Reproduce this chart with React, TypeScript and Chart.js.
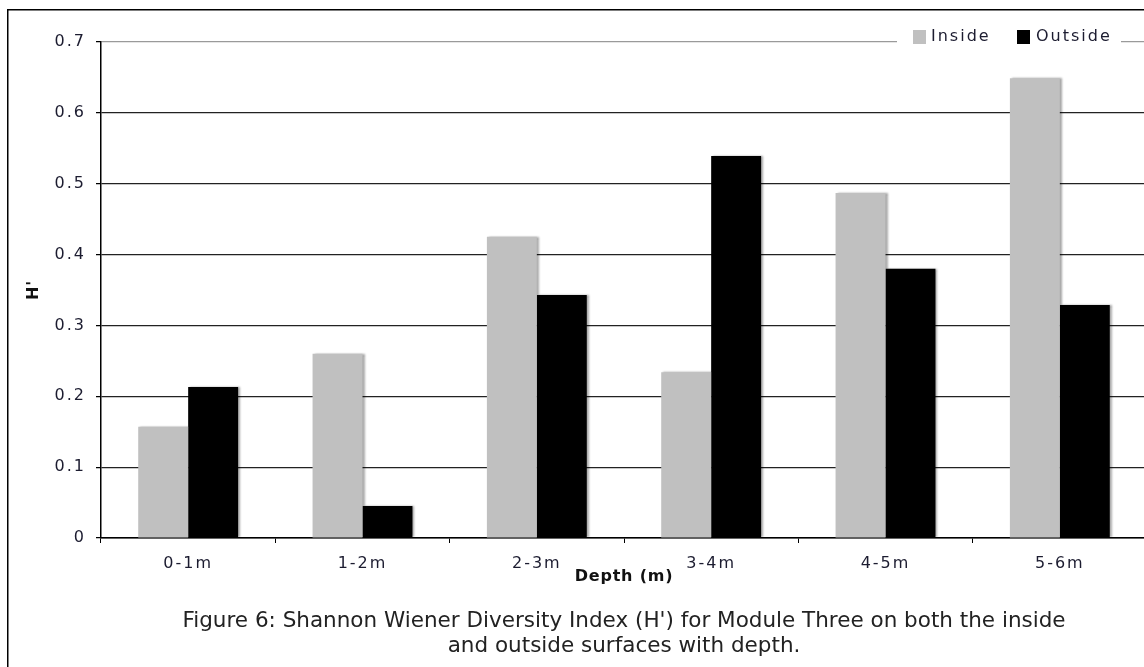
import { useEffect, useRef } from "react";
import { Chart, registerables } from "chart.js";

Chart.register(...registerables);

// Depth bands sampled on Module Three
const depthBands = ["0-1m", "1-2m", "2-3m", "3-4m", "4-5m", "5-6m"];
// Shannon Wiener index H' per band
const insideH = [0.157, 0.26, 0.425, 0.234, 0.487, 0.649];
const outsideH = [0.213, 0.045, 0.343, 0.539, 0.38, 0.329];
const seriesNames = ["Inside", "Outside"];
const seriesColors = ["#c0c0c0", "#000000"];
const yMax = 0.7;
const yStep = 0.1;
const xTitle = "Depth (m)";
const yTitle = "H'";
const captionLines = [
  "Figure 6: Shannon Wiener Diversity Index (H') for Module Three on both the inside",
  "and outside surfaces with depth.",
];

const FONT = "'DejaVu Sans', Verdana, sans-serif";
const TEXT = "#1c1c30";

const spacingPlugin = {
  id: "tracking",
  beforeDraw(chart: any) {
    chart.ctx.letterSpacing = "2px";
  },
};

const shadowPlugin = {
  id: "barShadow",
  beforeDatasetsDraw(chart: any) {
    const ctx = chart.ctx;
    ctx.save();
    ctx.shadowColor = "rgba(0,0,0,0.35)";
    ctx.shadowOffsetX = 2;
    ctx.shadowOffsetY = 0;
    ctx.shadowBlur = 2;
  },
  afterDatasetsDraw(chart: any) {
    chart.ctx.restore();
  },
};

const decorPlugin = {
  id: "decor",
  afterDraw(chart: any) {
    const ctx = chart.ctx;
    const area = chart.chartArea;
    ctx.save();

    // frame on top and left
    ctx.strokeStyle = "#000";
    ctx.lineWidth = 1.5;
    ctx.beginPath();
    ctx.moveTo(7.75, 667);
    ctx.lineTo(7.75, 9.75);
    ctx.lineTo(1150, 9.75);
    ctx.stroke();

    // legend sitting on the top grid line
    const yTop = chart.scales.y.getPixelForValue(yMax);
    ctx.fillStyle = "#fff";
    ctx.fillRect(897, yTop - 12, 224, 24);
    ctx.font = `16px ${FONT}`;
    ctx.letterSpacing = "2px";
    ctx.textBaseline = "middle";
    ctx.textAlign = "left";
    const items = [
      { x: 913, tx: 931 },
      { x: 1017, tx: 1036 },
    ];
    chart.data.datasets.forEach((ds: any, i: number) => {
      ctx.fillStyle = ds.backgroundColor;
      ctx.fillRect(items[i].x, 30, 13, 14);
      ctx.fillStyle = TEXT;
      ctx.fillText(ds.label, items[i].tx, 37);
    });

    // axis titles
    ctx.fillStyle = "#111";
    ctx.font = `bold 16px ${FONT}`;
    ctx.letterSpacing = "0.8px";
    ctx.textAlign = "center";
    ctx.fillText(xTitle, (area.left + area.right) / 2, 577);
    ctx.save();
    ctx.translate(34, (area.top + area.bottom) / 2);
    ctx.rotate(-Math.PI / 2);
    ctx.fillText(yTitle, 0, 0);
    ctx.restore();

    // caption
    ctx.font = `21.5px ${FONT}`;
    ctx.letterSpacing = "0px";
    ctx.fillStyle = "#222";
    ctx.textBaseline = "alphabetic";
    ctx.fillText(captionLines[0], 624, 627);
    ctx.fillText(captionLines[1], 624, 652);
    ctx.restore();
  },
};

export default function App() {
  const canvasRef = useRef<HTMLCanvasElement | null>(null);

  useEffect(() => {
    const canvas = canvasRef.current;
    if (!canvas) return;
    const chart = new Chart(canvas, {
      type: "bar",
      data: {
        labels: depthBands,
        datasets: [
          {
            label: seriesNames[0],
            data: insideH,
            backgroundColor: seriesColors[0],
            categoryPercentage: 0.573,
            barPercentage: 1,
          },
          {
            label: seriesNames[1],
            data: outsideH,
            backgroundColor: seriesColors[1],
            categoryPercentage: 0.573,
            barPercentage: 1,
          },
        ],
      },
      options: {
        responsive: false,
        animation: false,
        devicePixelRatio: 1,
        layout: { padding: { left: 0, top: 42, right: 3, bottom: 0 } },
        plugins: {
          legend: { display: false },
          tooltip: { enabled: false },
          title: { display: false },
        },
        scales: {
          x: {
            afterFit: (s: any) => {
              s.height = 129;
            },
            grid: {
              drawOnChartArea: false,
              tickLength: 5,
              color: "#000",
              offset: true,
            },
            border: { color: "#000", width: 1.5 },
            ticks: {
              color: TEXT,
              font: { family: FONT, size: 16 },
              padding: 11,
            },
          },
          y: {
            min: 0,
            max: yMax,
            afterFit: (s: any) => {
              s.width = 101;
            },
            grid: {
              tickLength: 5,
              color: (c: any) =>
                Math.abs(c.tick.value - yMax) < 1e-6 ? "#9a9a9a" : "#222",
              tickColor: "#000",
              lineWidth: 1.25,
            },
            border: { color: "#000", width: 1.5 },
            ticks: {
              stepSize: yStep,
              color: TEXT,
              font: { family: FONT, size: 16 },
              padding: 10,
              callback: (v: any) => (Number(v) === 0 ? "0" : Number(v).toFixed(1)),
            },
          },
        },
      },
      plugins: [spacingPlugin, shadowPlugin, decorPlugin],
    });
    return () => chart.destroy();
  }, []);

  return (
    <div
      style={{
        position: "fixed",
        left: 0,
        top: 0,
        width: 1144,
        height: 667,
        overflow: "hidden",
        background: "#fff",
      }}
    >
      <canvas ref={canvasRef} width={1150} height={667} style={{ display: "block" }} />
    </div>
  );
}
